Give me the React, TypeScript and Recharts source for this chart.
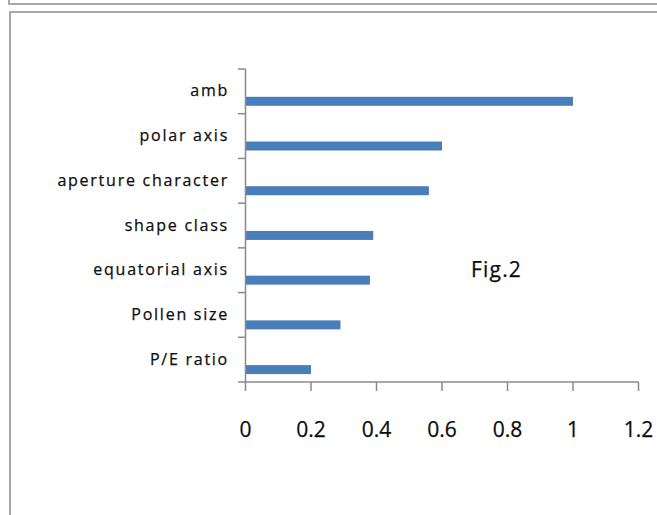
import React from 'react';
import { BarChart, Bar, XAxis, YAxis } from 'recharts';

const categories = ['amb', 'polar axis', 'aperture character', 'shape class', 'equatorial axis', 'Pollen size', 'P/E ratio'];
const values = [1.0, 0.6, 0.56, 0.39, 0.38, 0.29, 0.2];
const xTicks = [0, 0.2, 0.4, 0.6, 0.8, 1, 1.2];
const figLabel = 'Fig.2';

const data = categories.map((c, i) => ({ name: c, value: values[i] }));

const W = 657;
const H = 515;
const PLOT_LEFT = 245.5;
const PLOT_TOP = 69;
const PLOT_BOTTOM = 382;
const PLOT_RIGHT = 638.5;
const BAND = (PLOT_BOTTOM - PLOT_TOP) / categories.length;
const BAR_SHIFT = 9.8;
const AXIS = '#8a8a8a';
const FONT = '"Open Sans", sans-serif';
const TEXT = '#0d0d0d';

const YTick = (props: any) => {
  const { y, payload, index } = props;
  const half = BAND / 2;
  const last = index === categories.length - 1;
  return (
    <g>
      <line x1={PLOT_LEFT - 7.5} x2={PLOT_LEFT} y1={y - half} y2={y - half} stroke={AXIS} strokeWidth={1.5} />
      {last && (
        <line x1={PLOT_LEFT - 7.5} x2={PLOT_LEFT} y1={y + half} y2={y + half} stroke={AXIS} strokeWidth={1.5} />
      )}
      <text
        x={229}
        y={y}
        dy={5}
        textAnchor="end"
        fontFamily={FONT}
        fontSize={16}
        letterSpacing={1.75}
        fill={TEXT}
        stroke={TEXT}
        strokeWidth={0.25}
      >
        {payload.value}
      </text>
    </g>
  );
};

const BarShape = (p: any) => (
  <rect x={p.x} y={p.y + BAR_SHIFT} width={p.width} height={p.height} fill="#4a7ebb" />
);

export default function App() {
  return (
    <div style={{ position: 'absolute', left: 0, top: 0, width: W, height: H, background: '#fff', overflow: 'hidden' }}>
      <div style={{ position: 'absolute', left: 8, top: -19, width: 700, height: 24, border: '2px solid #a8a8a8', boxSizing: 'border-box' }} />
      <div style={{ position: 'absolute', left: 9, top: 11, width: 700, height: 560, border: '2px solid #a8a8a8', boxSizing: 'border-box' }} />
      <div style={{ position: 'absolute', left: 0, top: 0 }}>
        <BarChart
          width={W}
          height={H}
          data={data}
          layout="vertical"
          margin={{ top: PLOT_TOP, right: W - PLOT_RIGHT, bottom: 0, left: 0 }}
        >
          <XAxis
            type="number"
            domain={[0, 1.2]}
            ticks={xTicks}
            interval={0}
            height={H - PLOT_BOTTOM}
            axisLine={{ stroke: AXIS, strokeWidth: 1.5 }}
            tickLine={{ stroke: AXIS, strokeWidth: 1.5 }}
            tickSize={9}
            tickMargin={31}
            tick={{ fontFamily: FONT, fontSize: 21, fill: TEXT, stroke: TEXT, strokeWidth: 0.25 }}
            tickFormatter={(v: number) => String(v)}
          />
          <YAxis
            type="category"
            dataKey="name"
            width={PLOT_LEFT}
            axisLine={{ stroke: AXIS, strokeWidth: 1.5 }}
            tickLine={false}
            interval={0}
            tick={<YTick />}
          />
          <Bar dataKey="value" barSize={9} isAnimationActive={false} shape={<BarShape />} />
        </BarChart>
      </div>
      <svg style={{ position: 'absolute', left: 0, top: 0 }} width={W} height={H}>
        <text x={471} y={277} fontFamily={FONT} fontSize={21} letterSpacing={1.2} fill={TEXT} stroke={TEXT} strokeWidth={0.25}>
          {figLabel}
        </text>
      </svg>
    </div>
  );
}
